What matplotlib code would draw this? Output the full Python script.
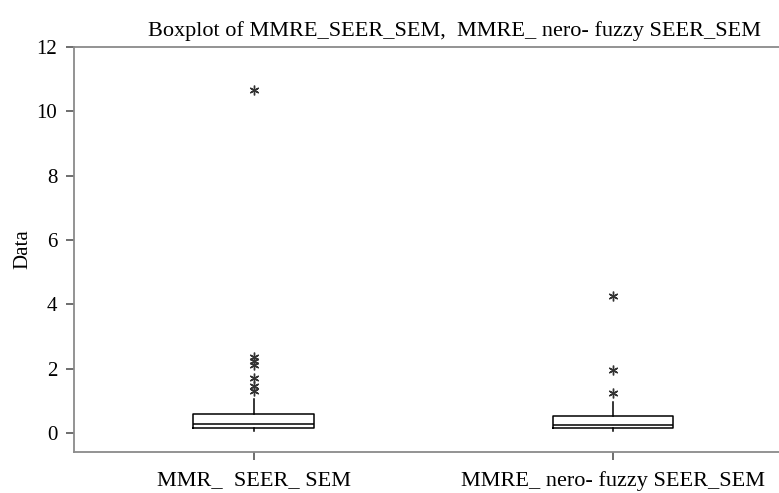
import matplotlib
matplotlib.use('Agg')
import matplotlib.pyplot as plt

plt.rcParams['font.family'] = ['Liberation Serif', 'DejaVu Serif']

labels = ['MMR_  SEER_ SEM', 'MMRE_ nero- fuzzy SEER_SEM']
q1 = [0.17, 0.15]
med = [0.27, 0.26]
q3 = [0.59, 0.53]
whislo = [0.08, 0.08]
whishi = [1.05, 0.97]
fliers = [[10.65, 2.35, 2.25, 2.12, 1.72, 1.45, 1.32],
          [4.25, 1.96, 1.24]]

stats = []
for i in range(len(labels)):
  stats.append({'label': labels[i], 'q1': q1[i], 'med': med[i], 'q3': q3[i],
                'whislo': whislo[i], 'whishi': whishi[i], 'fliers': fliers[i]})

fig = plt.figure(figsize=(7.79, 4.93), dpi=100)
ax = fig.add_axes([0.095, 0.083, 0.922, 0.822])

ax.bxp(stats, positions=[1, 2], widths=0.335, showcaps=False,
       boxprops=dict(color='black', linewidth=1.1),
       medianprops=dict(color='black', linewidth=1.1),
       whiskerprops=dict(color='black', linewidth=1.1),
       flierprops=dict(marker=(6, 2, 0), markersize=7, markeredgecolor='#333333',
                       markeredgewidth=1.0, linestyle='none'))

ax.set_xlim(0.5, 2.5)
ax.set_ylim(-0.59, 12)
ax.set_yticks([0, 2, 4, 6, 8, 10, 12])
ax.set_xticks([1, 2])
ax.set_xticklabels(labels)

for s in ['left', 'top', 'bottom', 'right']:
  ax.spines[s].set_color('#8a8a8a')
  ax.spines[s].set_linewidth(1.3)

ax.tick_params(axis='both', direction='out', length=6, width=1.2, color='#555555',
               labelsize=15, pad=6)
ax.tick_params(axis='x', labelsize=16, pad=8)
ax.set_ylabel('Data', fontsize=15, labelpad=3)
ax.set_title('Boxplot of MMRE_SEER_SEM,  MMRE_ nero- fuzzy SEER_SEM', fontsize=16,
             pad=8, x=0.53)

fig.savefig('out.png', dpi=100)
